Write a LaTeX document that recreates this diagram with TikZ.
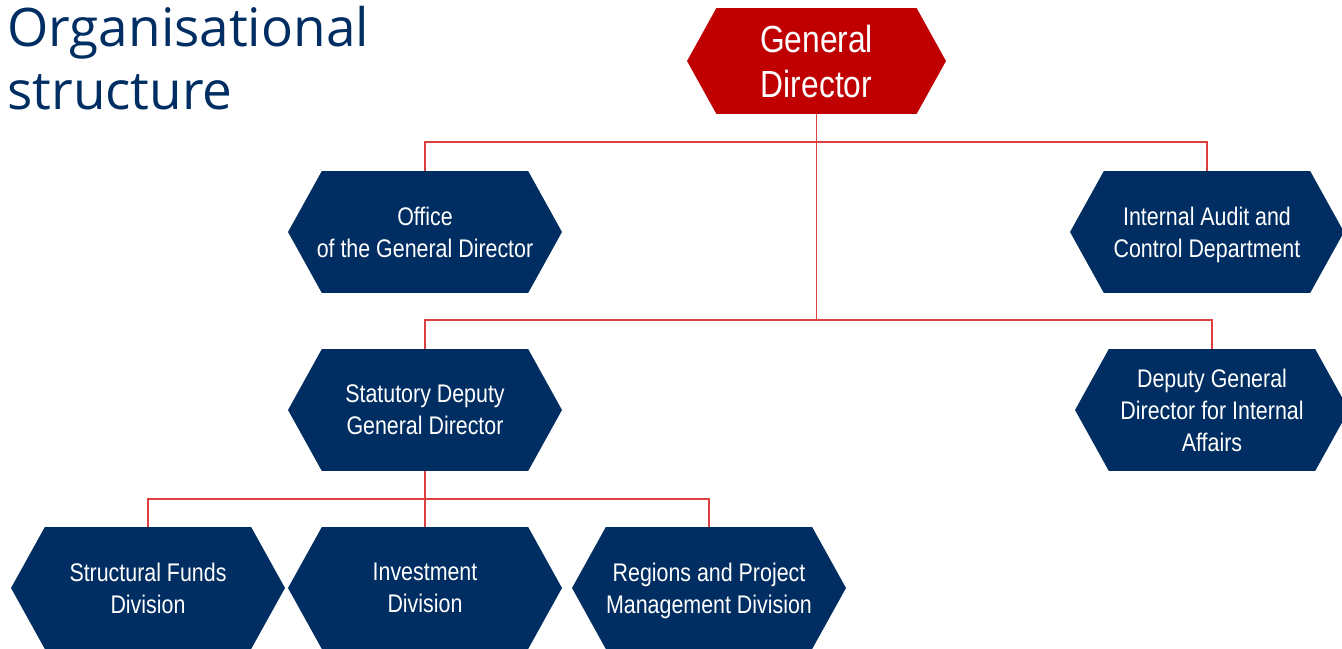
\documentclass[tikz,border=0pt]{standalone}
\usepackage{fontspec}
\usetikzlibrary{shapes.symbols}
\newfontfamily\boxfont[FakeStretch=0.84]{Liberation Sans}
\newfontfamily\titlefont{Open Sans}
\definecolor{navy}{HTML}{002E62}
\definecolor{gdred}{HTML}{C00000}
\definecolor{linkred}{HTML}{DC4040}
\begin{document}
\begin{tikzpicture}[x=0.02cm, y=-0.02cm,
  hexbox/.style={signal, signal to=west and east, signal pointer angle=122,
    fill=navy, text=white, align=center, inner sep=0pt, inner xsep=-0.25cm,
    text depth=0pt, minimum width=5.48cm, minimum height=2.44cm,
    font=\boxfont\fontsize{14.5}{18.2}\selectfont},
  topbox/.style={hexbox, fill=gdred, minimum width=5.18cm, minimum height=2.12cm,
    font=\boxfont\fontsize{21.5}{25.5}\selectfont},
  link/.style={draw=linkred, line width=1.1pt}]

\useasboundingbox (0, 0) rectangle (1342, 649);

\node [anchor=north west, inner sep=0pt, align=left, text=navy,
  font=\titlefont\fontsize{30.2}{35.5}\selectfont] (title) at (7, 6) {Organisational\\structure};

\node [topbox] (gd) at (816.5, 61) {General\\Director};

\node [hexbox] (office) at (425, 232) {Office\\of the General Director};
\node [hexbox] (audit) at (1207, 232) {Internal Audit and\\Control Department};

\node [hexbox] (statutory) at (425, 410) {Statutory Deputy\\General Director};
\node [hexbox] (deputy) at (1212, 410) {Deputy General\\Director for Internal\\Affairs};

\node [hexbox] (sfd) at (148, 588) {Structural Funds\\Division};
\node [hexbox] (inv) at (425, 588) {Investment\\Division};
\node [hexbox] (reg) at (709, 588) {Regions and Project\\Management Division};

\coordinate (bus1) at (816.5, 142);
\coordinate (bus2) at (816.5, 320);
\coordinate (bus3) at (425, 499);

\draw [link] (gd.south)--(bus2);
\draw [link] (office.north) |- (bus1) -| (audit.north);
\draw [link] (statutory.north) |- (bus2) -| (deputy.north);
\draw [link] (sfd.north) |- (bus3) -| (reg.north);
\draw [link] (statutory.south)--(inv.north);
\end{tikzpicture}
\end{document}
